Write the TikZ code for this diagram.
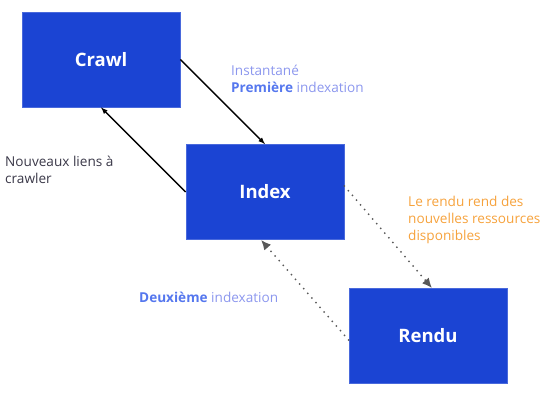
\documentclass[tikz,border=0pt]{standalone}
\usepackage{fontspec}
\setmainfont{Open Sans}
\usetikzlibrary{arrows.meta}
\definecolor{bleubox}{HTML}{1B44D3}
\definecolor{bleuclair}{HTML}{8C97EE}
\definecolor{bleufort}{HTML}{5577EE}
\definecolor{orangerendu}{HTML}{F6A23C}
\definecolor{gristexte}{HTML}{3A3848}
\begin{document}
\begin{tikzpicture}[x=1pt,y=-1pt]
            \tikzstyle{boite}=[rectangle,fill=bleubox,draw=bleubox!80!white,line width=0.8pt,minimum width=158pt,minimum height=95pt,text=white,font=\fontsize{18.5}{20}\selectfont\bfseries]
            \tikzstyle{fleche}=[-latex,line width=1.3pt,black]
            \tikzstyle{pointille}=[-{Latex[length=10pt,width=9pt]},line width=2pt,line cap=round,dash pattern=on 0pt off 6.2pt,black!65]
            \tikzstyle{texte}=[anchor=north west,inner sep=0pt,align=left,font=\fontsize{13.6}{17}\selectfont]
            \useasboundingbox (0,0) rectangle (555,404);
            \node[boite] (crawl) at (101,59.5) {Crawl};
            \node[boite] (index) at (265,192) {Index};
            \node[boite] (rendu) at (428,336) {Rendu};
            \draw[fleche] (crawl.east) -> (index.north);
            \draw[fleche] (index.west) -> (crawl.south);
            \draw[pointille] ([yshift=6pt]index.east) -> ([xshift=4pt]rendu.north);
            \draw[pointille] ([yshift=-4pt]rendu.west) -> ([xshift=-4pt]index.south);
            \node[texte,text=bleuclair] (premiere) at (231,65) {Instantané\\\textcolor{bleufort}{\bfseries Première} indexation};
            \node[texte,text=gristexte] (liens) at (5,155.5) {Nouveaux liens à\\crawler};
            \node[texte,text=orangerendu] (ressources) at (408,195.5) {Le rendu rend des\\nouvelles ressources\\disponibles};
            \node[texte,text=bleuclair] (deuxieme) at (139,291.5) {\textcolor{bleufort}{\bfseries Deuxième} indexation};
        \end{tikzpicture}
\end{document}
